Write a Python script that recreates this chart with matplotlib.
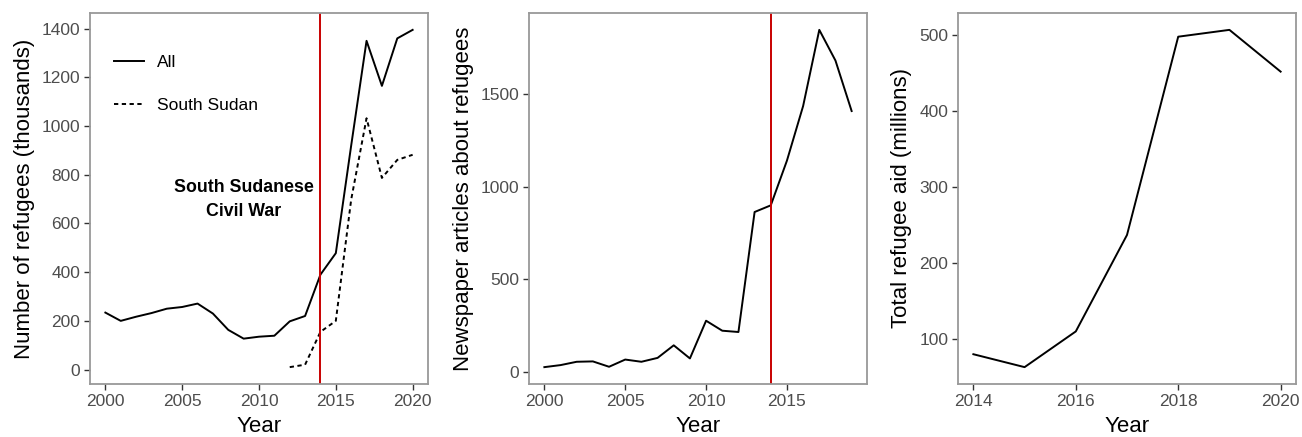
import matplotlib
matplotlib.use("Agg")
import matplotlib.pyplot as plt
from matplotlib.lines import Line2D

plt.rcParams['font.family'] = ['Liberation Sans', 'DejaVu Sans']

# ---- data ----
years_all = list(range(2000, 2021))
refugees_all = [234, 200, 217, 232, 250, 257, 271, 230, 163, 127, 135, 139,
                198, 220, 390, 478, 920, 1350, 1165, 1360, 1395]
years_ss = list(range(2012, 2021))
refugees_ss = [10, 20, 155, 200, 698, 1032, 787, 861, 882]

years_news = list(range(2000, 2020))
articles = [25, 36, 54, 56, 27, 66, 54, 75, 143, 72, 276, 222, 215, 864,
            900, 1142, 1437, 1849, 1683, 1410]

years_aid = list(range(2014, 2021))
aid = [80, 63, 110, 237, 498, 507, 452]

war_year = 2014
annotation = "South Sudanese\nCivil War"

W, H = 1302, 437
fig = plt.figure(figsize=(W / 100, H / 100), dpi=100)

def box(x0, x1, y0, y1):
    return [x0 / W, (H - y1) / H, (x1 - x0) / W, (y1 - y0) / H]

ax1 = fig.add_axes(box(90, 428, 13, 384))
ax2 = fig.add_axes(box(529, 867, 13, 384))
ax3 = fig.add_axes(box(958, 1296, 13, 384))

LW = 1.4
RED = '#C80000'
DASH = (2.2, 1.8)

def style(ax, ylabel, ylab_x):
    for s in ax.spines.values():
        s.set_color('#999999')
        s.set_linewidth(1.3)
    ax.tick_params(axis='both', colors='#333333', labelcolor='#4D4D4D',
                   labelsize=12.5, length=4, width=1.0, pad=3)
    ax.set_xlabel('Year', fontsize=16, color='black')
    ax.set_ylabel(ylabel, fontsize=16, color='black')
    ax.xaxis.set_label_coords(0.5, -0.085)
    ax.yaxis.set_label_coords(ylab_x, 0.5)

def expand(ax, xs, ys):
    xmin, xmax = min(xs), max(xs)
    ymin, ymax = min(ys), max(ys)
    dx = (xmax - xmin) * 0.05
    dy = (ymax - ymin) * 0.05
    ax.set_xlim(xmin - dx, xmax + dx)
    ax.set_ylim(ymin - dy, ymax + dy)

# Panel 1
ax1.plot(years_all, refugees_all, color='black', lw=LW)
ax1.plot(years_ss, refugees_ss, color='black', lw=LW, dashes=DASH)
ax1.axvline(war_year, color=RED, lw=LW)
expand(ax1, years_all, refugees_all + refugees_ss)
ax1.set_xticks([2000, 2005, 2010, 2015, 2020])
ax1.set_yticks([0, 200, 400, 600, 800, 1000, 1200, 1400])
ax1.text(2009, 697, annotation, ha='center', va='center', fontsize=12.8,
         fontweight='bold', linespacing=1.55)
handles = [Line2D([], [], color='black', lw=LW),
           Line2D([], [], color='black', lw=LW, dashes=DASH)]
leg = ax1.legend(handles, ['All', 'South Sudan'], loc='upper left',
                 bbox_to_anchor=(0.025, 0.93), frameon=False, fontsize=12.5,
                 handlelength=1.75, labelspacing=1.6, handletextpad=0.7)
style(ax1, 'Number of refugees (thousands)', -0.163)

# Panel 2
ax2.plot(years_news, articles, color='black', lw=LW)
ax2.axvline(war_year, color=RED, lw=LW)
expand(ax2, years_news, articles)
ax2.set_xticks([2000, 2005, 2010, 2015])
ax2.set_yticks([0, 500, 1000, 1500])
style(ax2, 'Newspaper articles about refugees', -0.162)

# Panel 3
ax3.plot(years_aid, aid, color='black', lw=LW)
expand(ax3, years_aid, aid)
ax3.set_xticks([2014, 2016, 2018, 2020])
ax3.set_yticks([100, 200, 300, 400, 500])
style(ax3, 'Total refugee aid (millions)', -0.136)

fig.savefig('out.png', dpi=100)
